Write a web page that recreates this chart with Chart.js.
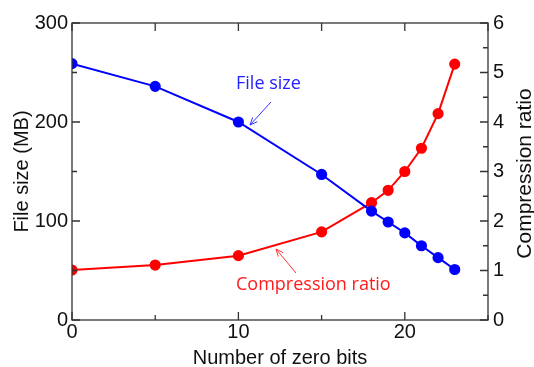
<!DOCTYPE html>
<html><head><meta charset="utf-8">
<script src="https://cdn.jsdelivr.net/npm/chart.js@4/dist/chart.umd.min.js"></script>
<style>html,body{margin:0;padding:0;background:#fff}#wrap{width:534px;height:367px}</style>
</head><body><div id="wrap"><canvas id="c" width="534" height="367"></canvas></div>
<script>
const zeroBits = [0, 5, 10, 15, 18, 19, 20, 21, 22, 23];
const fileSizeMB = [259, 236, 200, 147, 110, 99, 88, 75, 63, 51];
const compressionRatio = [1.01, 1.11, 1.30, 1.78, 2.37, 2.62, 3.0, 3.47, 4.17, 5.17];
const leftTicks = [0, 100, 200, 300];
const rightTicks = [0, 1, 2, 3, 4, 5, 6];
const xTicks = [0, 10, 20];
const labelFileSize = 'File size';
const labelRatio = 'Compression ratio';
const xTitle = 'Number of zero bits';
const yTitle = 'File size (MB)';
const y1Title = 'Compression ratio';

const FAM = '"Liberation Sans", Arial, sans-serif';

const framePlugin = {
  id: 'frame',
  afterDatasetsDraw(chart) {
    const ctx = chart.ctx, a = chart.chartArea;
    const sx = chart.scales.x, sy = chart.scales.y, sy1 = chart.scales.y1;
    ctx.save();
    ctx.strokeStyle = '#333'; ctx.lineWidth = 1.3;
    ctx.strokeRect(a.left, a.top, a.right - a.left, a.bottom - a.top);
    ctx.beginPath();
    for (let v = 0; v <= 25; v += 5) {
      const px = sx.getPixelForValue(v);
      const L = (v % 10 === 0) ? 8 : 5;
      ctx.moveTo(px, a.bottom); ctx.lineTo(px, a.bottom - L);
      ctx.moveTo(px, a.top); ctx.lineTo(px, a.top + 8);
    }
    for (let v = 0; v <= 300; v += 50) {
      const py = sy.getPixelForValue(v);
      const L = (v % 100 === 0) ? 8 : 5;
      ctx.moveTo(a.left, py); ctx.lineTo(a.left + L, py);
    }
    for (let v = 0; v <= 6; v += 0.5) {
      const py = sy1.getPixelForValue(v);
      const L = (v % 1 === 0) ? 8 : 5;
      ctx.moveTo(a.right, py); ctx.lineTo(a.right - L, py);
    }
    ctx.stroke();
    // right axis title, reading bottom to top
    ctx.save();
    ctx.translate(525, (a.top + a.bottom) / 2 + 2);
    ctx.rotate(-Math.PI / 2);
    ctx.font = '21px ' + FAM;
    ctx.fillStyle = '#111';
    ctx.textAlign = 'center'; ctx.textBaseline = 'middle';
    ctx.fillText(y1Title, 0, 0);
    ctx.restore();
    // annotations
    ctx.font = '18px "Open Sans", sans-serif';
    ctx.textBaseline = 'alphabetic';
    ctx.fillStyle = '#2222ff';
    ctx.fillText(labelFileSize, 236, 89);
    ctx.fillStyle = '#ff1a1a';
    ctx.fillText(labelRatio, 236, 290);
    function arrow(x1, y1, x2, y2, col) {
      ctx.strokeStyle = col; ctx.lineWidth = 1;
      ctx.beginPath(); ctx.moveTo(x1, y1); ctx.lineTo(x2, y2); ctx.stroke();
      const ang = Math.atan2(y2 - y1, x2 - x1), h = 8;
      ctx.beginPath();
      ctx.moveTo(x2 - h * Math.cos(ang - 0.4), y2 - h * Math.sin(ang - 0.4));
      ctx.lineTo(x2, y2);
      ctx.lineTo(x2 - h * Math.cos(ang + 0.4), y2 - h * Math.sin(ang + 0.4));
      ctx.stroke();
    }
    arrow(271, 102, 250, 125, '#3333ff');
    arrow(296, 273, 276, 249, '#ff3333');
    ctx.restore();
  }
};

new Chart(document.getElementById('c'), {
  type: 'line',
  data: {
    datasets: [
      {
        label: labelFileSize,
        data: zeroBits.map((x, i) => ({ x, y: fileSizeMB[i] })),
        yAxisID: 'y',
        borderColor: '#0000ff', backgroundColor: '#0000ff',
        borderWidth: 2, pointRadius: 4.6, pointHoverRadius: 4.6, tension: 0
      },
      {
        label: labelRatio,
        data: zeroBits.map((x, i) => ({ x, y: compressionRatio[i] })),
        yAxisID: 'y1',
        borderColor: '#ff0000', backgroundColor: '#ff0000',
        borderWidth: 2, pointRadius: 4.6, pointHoverRadius: 4.6, tension: 0
      }
    ]
  },
  options: {
    responsive: false, animation: false,
    layout: { padding: { top: 23, left: 0, right: 0, bottom: 0 } },
    plugins: { legend: { display: false }, tooltip: { enabled: false } },
    scales: {
      x: {
        type: 'linear', min: 0, max: 25,
        afterBuildTicks: s => { s.ticks = xTicks.map(v => ({ value: v })); },
        grid: { display: false, drawTicks: false }, border: { display: false },
        ticks: { color: '#111', font: { family: FAM, size: 20 }, padding: 0, maxRotation: 0 },
        title: { display: true, text: xTitle, color: '#111', font: { family: FAM, size: 20 }, padding: { top: 0, bottom: -3 } },
        afterFit: s => { s.height = 47; }
      },
      y: {
        position: 'left', min: 0, max: 300,
        afterBuildTicks: s => { s.ticks = leftTicks.map(v => ({ value: v })); },
        grid: { display: false, drawTicks: false }, border: { display: false },
        ticks: { color: '#111', font: { family: FAM, size: 20 }, padding: 4 },
        title: { display: true, text: yTitle, color: '#111', font: { family: FAM, size: 20 }, padding: { top: 10, bottom: 0 } },
        afterFit: s => { s.width = 72; }
      },
      y1: {
        position: 'right', min: 0, max: 6,
        afterBuildTicks: s => { s.ticks = rightTicks.map(v => ({ value: v })); },
        grid: { display: false, drawTicks: false }, border: { display: false },
        ticks: { color: '#111', font: { family: FAM, size: 20 }, padding: 5 },
        title: { display: false },
        afterFit: s => { s.width = 46; }
      }
    }
  },
  plugins: [framePlugin]
});
</script></body></html>
